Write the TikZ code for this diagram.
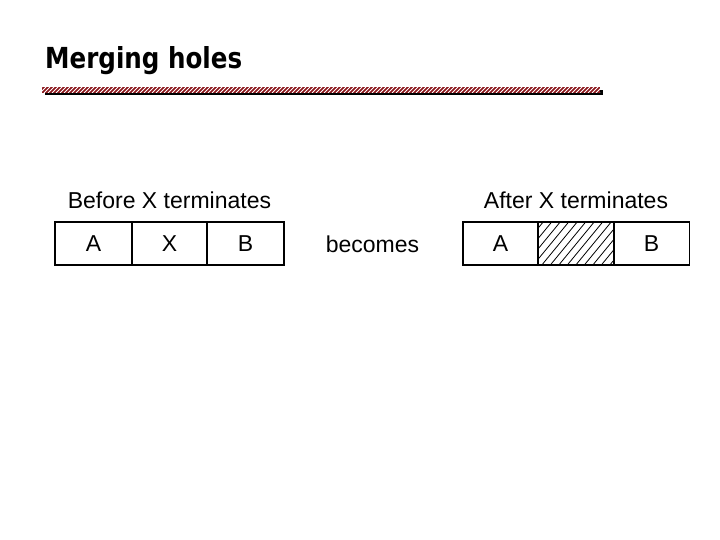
\documentclass[tikz,border=0pt]{standalone}
\usepackage{fontspec}
\setmainfont{Liberation Sans}
\newfontfamily\titlefont{DejaVu Sans}
\definecolor{barred}{HTML}{8A161B}
\begin{document}
\begin{tikzpicture}[x=1pt,y=-1pt,
  cell/.style={draw=black,line width=1.8pt,minimum height=43pt,inner sep=0pt,font=\fontsize{23}{23}\selectfont},
  lbl/.style={inner sep=0pt,font=\fontsize{23}{23}\selectfont,anchor=base},
  hatch/.style={line width=0.8pt,black}]
\useasboundingbox[fill=white] (0,0) rectangle (720,540);
% title
\node[anchor=base west,inner sep=0pt] (title) at (45,69) {\resizebox{197pt}{22pt}{\titlefont\bfseries Merging holes}};
% title bar
\fill[black] (45,90) rectangle (603,95);
\fill[barred] (42,87) rectangle (600,93);
\begin{scope}
\clip (42,87) rectangle (600,93);
\foreach \x in {36,40,...,604} \draw[white,line width=0.8pt] (\x,93) -- (\x+6,87);
\end{scope}
% before
\node[lbl] (before) at (169.5,209) {Before X terminates};
\node[cell,minimum width=77pt] (a1) at (93.5,243.5) {A};
\node[cell,minimum width=75pt] (x1) at (169.5,243.5) {X};
\node[cell,minimum width=77pt] (b1) at (245.5,243.5) {B};
% becomes
\node[lbl] (becomes) at (372.5,252) {becomes};
% after
\node[lbl] (after) at (576,209) {After X terminates};
\node[cell,minimum width=75pt] (a2) at (500.5,243.5) {A};
\node[cell,minimum width=76pt] (b2) at (651.5,243.5) {B};
\node[minimum width=76pt,minimum height=43pt,inner sep=0pt] (h2) at (576,243.5) {};
\begin{scope}
\clip (h2.south west) rectangle (h2.north east);
\foreach \x in {490,498.5,...,620} \draw[hatch] (\x,266) -- (\x+37,221);
\end{scope}
\draw[line width=1.8pt] (h2.south west) rectangle (h2.north east);
\end{tikzpicture}
\end{document}
